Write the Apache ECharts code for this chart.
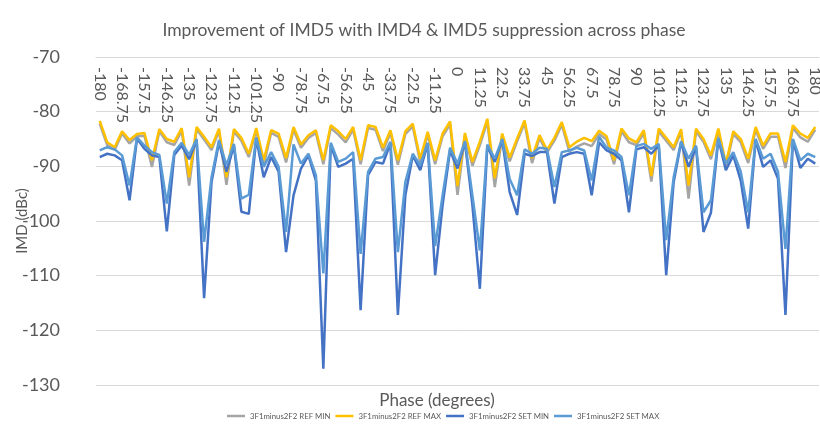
<!DOCTYPE html>
<html>
<head>
<meta charset="utf-8">
<script src="https://cdn.jsdelivr.net/npm/echarts@6/dist/echarts.min.js"></script>
<style>
  html, body { margin: 0; padding: 0; background: #ffffff; }
  #chart { width: 820px; height: 436px; }
</style>
</head>
<body>
<div id="chart"></div>
<script>
// Phase steps (degrees), 3.75° apart
const phases = [
  -180, -176.25, -172.5, -168.75, -165, -161.25, -157.5, -153.75, -150, -146.25,
  -142.5, -138.75, -135, -131.25, -127.5, -123.75, -120, -116.25, -112.5, -108.75,
  -105, -101.25, -97.5, -93.75, -90, -86.25, -82.5, -78.75, -75, -71.25,
  -67.5, -63.75, -60, -56.25, -52.5, -48.75, -45, -41.25, -37.5, -33.75,
  -30, -26.25, -22.5, -18.75, -15, -11.25, -7.5, -3.75, 0, 3.75,
  7.5, 11.25, 15, 18.75, 22.5, 26.25, 30, 33.75, 37.5, 41.25,
  45, 48.75, 52.5, 56.25, 60, 63.75, 67.5, 71.25, 75, 78.75,
  82.5, 86.25, 90, 93.75, 97.5, 101.25, 105, 108.75, 112.5, 116.25,
  120, 123.75, 127.5, 131.25, 135, 138.75, 142.5, 146.25, 150, 153.75,
  157.5, 161.25, 165, 168.75, 172.5, 176.25, 180
];

// IMD (dBc) per phase
const refMin = [
  -82.2, -86.1, -87.0, -84.0, -85.8, -84.5, -84.4, -90.1, -83.6, -85.6,
  -86.1, -83.5, -93.5, -83.2, -85.1, -87.0, -83.5, -93.4, -83.6, -85.3,
  -88.3, -83.4, -89.8, -83.9, -84.6, -89.3, -83.3, -86.6, -84.8, -83.9,
  -89.6, -83.0, -84.2, -85.6, -83.3, -89.6, -83.0, -83.3, -87.2, -83.9,
  -89.7, -84.1, -82.7, -89.3, -84.2, -89.6, -84.5, -82.3, -95.2, -84.4,
  -89.9, -86.1, -81.8, -93.8, -84.5, -89.1, -85.4, -82.1, -89.4, -84.8,
  -87.5, -85.3, -82.4, -87.3, -86.4, -85.8, -86.3, -84.1, -85.1, -89.6,
  -83.6, -85.6, -86.1, -83.9, -92.8, -83.6, -85.3, -87.0, -83.7, -95.9,
  -83.6, -85.5, -88.7, -83.6, -90.2, -84.1, -85.6, -89.4, -83.3, -86.8,
  -84.6, -84.6, -90.3, -83.0, -84.7, -85.5, -83.3
];

const refMax = [
  -81.7, -85.6, -86.5, -83.6, -85.2, -84.1, -83.9, -88.9, -83.2, -85.0,
  -85.5, -83.0, -92.0, -82.8, -84.6, -86.5, -83.1, -92.0, -83.2, -84.8,
  -87.7, -83.0, -88.9, -83.4, -84.0, -88.5, -82.8, -86.0, -84.3, -83.4,
  -88.9, -82.5, -83.6, -85.0, -82.8, -88.9, -82.5, -82.8, -86.6, -83.4,
  -88.9, -83.6, -82.2, -88.6, -83.7, -88.9, -84.0, -81.8, -93.6, -83.9,
  -89.2, -85.5, -81.3, -92.2, -84.0, -88.4, -84.9, -81.6, -88.5, -84.3,
  -87.0, -84.8, -81.9, -86.5, -85.5, -84.8, -85.4, -83.5, -84.5, -88.9,
  -83.1, -84.9, -85.6, -83.4, -91.8, -83.1, -84.8, -86.5, -83.2, -93.5,
  -83.1, -85.0, -88.0, -83.1, -89.5, -83.6, -85.0, -88.6, -82.8, -86.2,
  -84.0, -84.0, -89.2, -82.5, -84.0, -84.8, -82.8
];

const setMin = [
  -88.3, -87.7, -88.0, -88.9, -96.2, -84.9, -86.8, -88.0, -88.3, -101.9,
  -87.9, -86.2, -88.7, -85.2, -114.1, -92.9, -85.6, -91.0, -86.2, -98.3,
  -98.7, -84.9, -92.0, -88.3, -91.0, -105.7, -95.3, -90.4, -88.0, -92.6,
  -127.0, -86.1, -90.1, -89.5, -88.6, -116.3, -91.6, -89.2, -89.5, -85.8,
  -117.2, -95.3, -88.0, -90.7, -85.9, -109.9, -97.1, -87.1, -90.4, -85.6,
  -97.1, -112.4, -86.3, -89.2, -85.2, -94.7, -98.9, -87.7, -88.1, -87.4,
  -87.4, -96.8, -88.3, -87.7, -87.4, -87.7, -95.3, -85.6, -87.1, -87.7,
  -88.9, -98.4, -86.9, -86.5, -87.7, -86.2, -109.9, -92.9, -85.6, -90.1,
  -86.5, -102.0, -98.5, -85.0, -90.7, -88.0, -92.6, -101.4, -85.2, -90.1,
  -88.9, -92.3, -117.2, -85.2, -90.3, -88.6, -89.5
];

const setMax = [
  -87.1, -86.5, -86.9, -88.0, -93.5, -84.7, -86.2, -87.4, -87.9, -96.8,
  -87.4, -85.7, -87.9, -85.0, -103.8, -92.0, -85.2, -89.8, -85.9, -95.9,
  -95.2, -84.7, -90.1, -87.4, -90.1, -102.0, -86.0, -89.5, -87.7, -91.6,
  -109.6, -85.7, -89.2, -88.6, -87.4, -106.0, -91.0, -88.6, -88.3, -85.5,
  -105.7, -92.9, -87.7, -89.8, -85.7, -104.6, -95.3, -86.6, -89.5, -85.4,
  -95.3, -105.4, -86.0, -88.6, -85.0, -92.3, -95.3, -86.9, -87.7, -86.6,
  -86.8, -93.8, -87.4, -87.1, -86.6, -87.1, -92.6, -84.6, -86.6, -87.1,
  -88.3, -95.3, -86.3, -85.9, -86.8, -85.9, -103.5, -92.0, -85.4, -88.6,
  -86.2, -98.4, -96.2, -84.8, -89.5, -87.4, -91.0, -98.4, -85.0, -88.6,
  -87.7, -91.0, -105.1, -85.0, -88.9, -87.7, -88.3
];

const seriesNames = [
  '3F1minus2F2 REF MIN',
  '3F1minus2F2 REF MAX',
  '3F1minus2F2 SET MIN',
  '3F1minus2F2 SET MAX'
];
const seriesColors = ['#A5A5A5', '#FFC000', '#4472C4', '#5B9BD5'];
const seriesData = [refMin, refMax, setMin, setMax];

const FONT = 'Lato, "Liberation Sans", sans-serif';
const TEXT = '#595959';

const chart = echarts.init(document.getElementById('chart'), null, { renderer: 'canvas' });

chart.setOption({
  animation: false,
  backgroundColor: '#ffffff',
  title: [
    {
      text: 'Improvement of IMD5 with IMD4 & IMD5 suppression across phase',
      left: 419,
      top: 16,
      textAlign: 'center',
      textStyle: { fontFamily: FONT, fontSize: 17.5, fontWeight: 'normal', color: TEXT }
    },
    {
      text: 'Phase (degrees)',
      left: 432,
      top: 387,
      textAlign: 'center',
      textStyle: { fontFamily: FONT, fontSize: 17, fontWeight: 'normal', color: TEXT }
    }
  ],
  legend: {
    data: seriesNames,
    left: 222,
    top: 407,
    icon: 'rect',
    itemWidth: 18,
    itemHeight: 2.5,
    itemGap: 5,
    textStyle: { fontFamily: FONT, fontSize: 7.8, color: TEXT }
  },
  grid: {
    left: 96,
    right: 1,
    top: 57,
    bottom: 51,
    containLabel: false,
    outerBoundsMode: 'none'
  },
  xAxis: {
    type: 'category',
    position: 'top',
    data: phases,
    boundaryGap: true,
    axisLine: { show: true, lineStyle: { color: '#d9d9d9', width: 1 } },
    axisTick: { show: false },
    splitLine: { show: false },
    axisLabel: {
      inside: true,
      rotate: 90,
      interval: 2,
      margin: 10,
      fontFamily: FONT,
      fontSize: 16,
      color: TEXT
    }
  },
  yAxis: {
    type: 'value',
    min: -130,
    max: -70,
    interval: 10,
    name: 'IMD (dBc)',
    nameLocation: 'middle',
    nameRotate: 90,
    nameGap: 66,
    nameMoveOverlap: false,
    nameTextStyle: { fontFamily: FONT, fontSize: 15, color: TEXT },
    axisLine: { show: false },
    axisTick: { show: false },
    splitLine: { show: true, lineStyle: { color: '#d9d9d9', width: 1 } },
    axisLabel: {
      margin: 36,
      fontFamily: FONT,
      fontSize: 18,
      color: TEXT
    }
  },
  series: seriesData.map((values, k) => ({
    name: seriesNames[k],
    type: 'line',
    data: values,
    symbol: 'none',
    showSymbol: false,
    smooth: false,
    color: seriesColors[k],
    lineStyle: { color: seriesColors[k], width: 2.5 }
  }))
});
</script>
</body>
</html>
